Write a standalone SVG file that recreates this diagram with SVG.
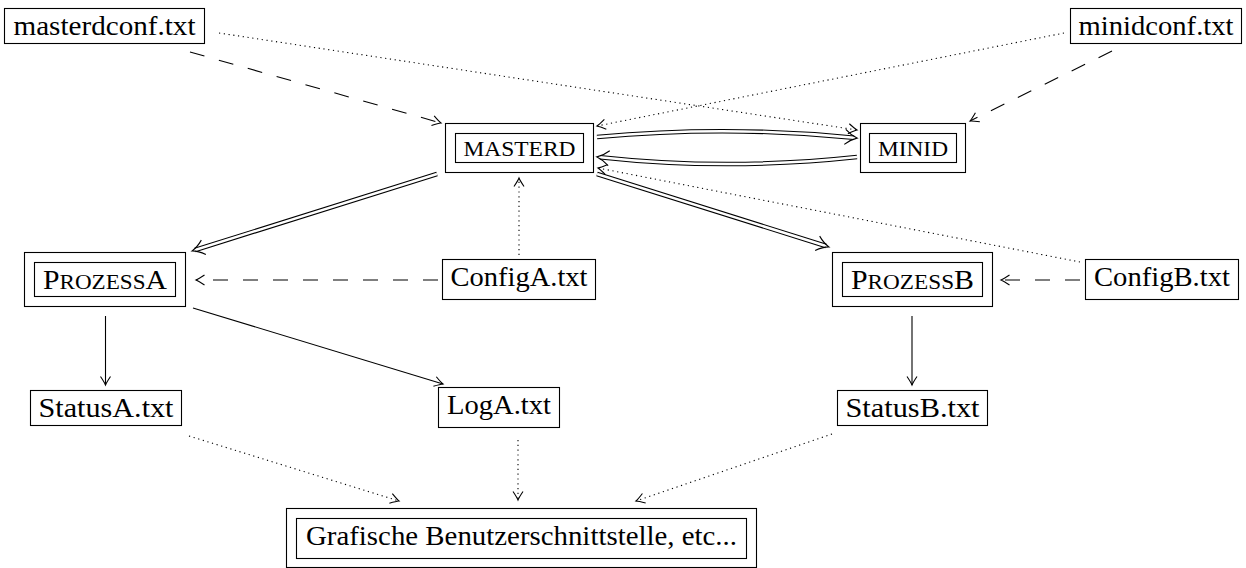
<svg xmlns="http://www.w3.org/2000/svg" width="1246" height="568" viewBox="0 0 1246 568">
<style>
.bx{fill:#fff;stroke:#000;stroke-width:1.1}
.t{font-family:"Liberation Serif","Times New Roman",serif;font-size:27px;fill:#000;text-anchor:middle}
.sc{font-size:21px}
.ln{fill:none;stroke:#000;stroke-width:1.1}
.dash{stroke-dasharray:15 15}
.dot{stroke-dasharray:1.2 3.6}
.dblo{fill:none;stroke:#000;stroke-width:4.6}
.dbli{fill:none;stroke:#fff;stroke-width:2.4}
</style>
<defs>
<marker id="ah" markerUnits="userSpaceOnUse" orient="auto" overflow="visible" markerWidth="10" markerHeight="10" refX="0" refY="0">
<path d="M -8.5 -5 Q -2.5 -1 0 0 Q -2.5 1 -8.5 5" fill="none" stroke="#000" stroke-width="1.1" stroke-dasharray="none"/>
</marker>
<marker id="ah2" markerUnits="userSpaceOnUse" orient="auto" overflow="visible" markerWidth="14" markerHeight="14" refX="0" refY="0">
<path d="M -9 -7.5 Q -3 -2 3 0 Q -3 2 -9 7.5" fill="none" stroke="#000" stroke-width="1.1" stroke-dasharray="none"/>
</marker>
</defs>
<rect width="1246" height="568" fill="#fff"/>
<g id="connectors">
<path class="ln dash" d="M190 52 L441 123" marker-end="url(#ah)"/>
<path class="ln dash" d="M1112 51 L970 121" marker-end="url(#ah)"/>
<path class="ln dot" d="M219 33 L857 130" marker-end="url(#ah)"/>
<path class="ln dot" d="M1064 33 L597 126" marker-end="url(#ah)"/>
<path class="dblo" d="M597 137 Q727 125 854 137.8"/>
<path class="dbli" d="M597 137 Q727 125 854 137.8" marker-end="url(#ah2)"/>
<path class="dblo" d="M857 157 Q727 171 600 157.2"/>
<path class="dbli" d="M857 157 Q727 171 600 157.2" marker-end="url(#ah2)"/>
<path class="dblo" d="M437 174 L195 250"/>
<path class="dbli" d="M437 174 L195 250" marker-end="url(#ah2)"/>
<path class="dblo" d="M597 174 L826 246"/>
<path class="dbli" d="M597 174 L826 246" marker-end="url(#ah2)"/>
<path class="ln dot" d="M519 255 L519 178" marker-end="url(#ah)"/>
<path class="ln dash" d="M438 280 L196 280" marker-end="url(#ah)"/>
<path class="ln dot" d="M1080 262 L598 168" marker-end="url(#ah)"/>
<path class="ln dash" d="M1080 280 L1001 280" marker-end="url(#ah)"/>
<path class="ln" d="M105.5 316 L105.5 385" marker-end="url(#ah)"/>
<path class="ln" d="M193 308 L443 384" marker-end="url(#ah)"/>
<path class="ln" d="M912 316 L912 385" marker-end="url(#ah)"/>
<path class="ln dot" d="M189 436 L399 501" marker-end="url(#ah)"/>
<path class="ln dot" d="M518 440 L518 500" marker-end="url(#ah)"/>
<path class="ln dot" d="M832 434 L636 501" marker-end="url(#ah)"/>
</g>
<g id="masterdconf">
<rect class="bx" x="4.5" y="8.5" width="200" height="35"/>
<text class="t" x="104.5" y="34.7" textLength="182" lengthAdjust="spacingAndGlyphs">masterdconf.txt</text>
</g>
<g id="minidconf">
<rect class="bx" x="1070.5" y="8.5" width="171" height="35"/>
<text class="t" x="1156" y="34.7" textLength="155" lengthAdjust="spacingAndGlyphs">minidconf.txt</text>
</g>
<g id="masterd">
<rect class="bx" x="445.5" y="123.5" width="148" height="49"/>
<rect class="bx" x="455.5" y="133.5" width="128" height="29"/>
<text class="t sc" x="519.5" y="155.5" textLength="112" lengthAdjust="spacingAndGlyphs">MASTERD</text>
</g>
<g id="minid">
<rect class="bx" x="860.5" y="123.5" width="105" height="49"/>
<rect class="bx" x="869.5" y="133.5" width="87" height="29"/>
<text class="t sc" x="913" y="155.5" textLength="70" lengthAdjust="spacingAndGlyphs">MINID</text>
</g>
<g id="prozessA">
<rect class="bx" x="24.5" y="252.5" width="161" height="54"/>
<rect class="bx" x="34.5" y="262.5" width="141" height="34"/>
<text class="t" x="105" y="288.5" textLength="124" lengthAdjust="spacingAndGlyphs">P<tspan class="sc">ROZESS</tspan>A</text>
</g>
<g id="configA">
<rect class="bx" x="442.5" y="259.5" width="153" height="40"/>
<text class="t" x="519" y="286" textLength="137" lengthAdjust="spacingAndGlyphs">ConfigA.txt</text>
</g>
<g id="prozessB">
<rect class="bx" x="832.5" y="252.5" width="160" height="54"/>
<rect class="bx" x="842.5" y="262.5" width="140" height="34"/>
<text class="t" x="912.5" y="288.5" textLength="123" lengthAdjust="spacingAndGlyphs">P<tspan class="sc">ROZESS</tspan>B</text>
</g>
<g id="configB">
<rect class="bx" x="1085.5" y="259.5" width="153" height="40"/>
<text class="t" x="1162" y="286" textLength="136" lengthAdjust="spacingAndGlyphs">ConfigB.txt</text>
</g>
<g id="statusA">
<rect class="bx" x="30.5" y="390.5" width="151" height="35"/>
<text class="t" x="106" y="416.7" textLength="135" lengthAdjust="spacingAndGlyphs">StatusA.txt</text>
</g>
<g id="logA">
<rect class="bx" x="438.5" y="387.5" width="121" height="40"/>
<text class="t" x="499" y="414" textLength="104" lengthAdjust="spacingAndGlyphs">LogA.txt</text>
</g>
<g id="statusB">
<rect class="bx" x="837.5" y="390.5" width="150" height="35"/>
<text class="t" x="912.5" y="416.7" textLength="134" lengthAdjust="spacingAndGlyphs">StatusB.txt</text>
</g>
<g id="gui">
<rect class="bx" x="286.5" y="508.5" width="470" height="59"/>
<rect class="bx" x="296.5" y="518.5" width="450" height="40"/>
<text class="t" x="521.5" y="544.6" textLength="431" lengthAdjust="spacingAndGlyphs">Grafische Benutzerschnittstelle, etc...</text>
</g>
</svg>
